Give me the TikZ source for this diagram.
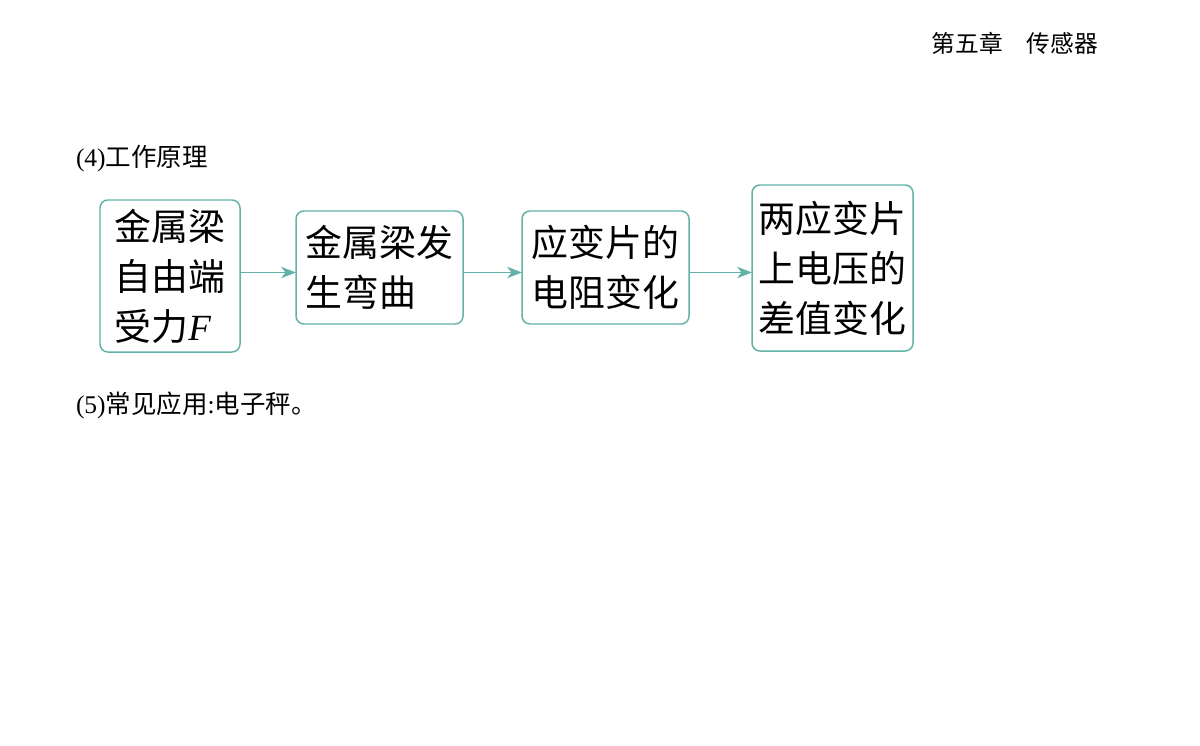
\documentclass[tikz,border=0pt]{standalone}
\usepackage{fontspec}
\setmainfont{Liberation Serif}
\newfontfamily\cjk{Noto Sans CJK SC}
\usetikzlibrary{%
    positioning,
    arrows.meta
}
\definecolor{boxteal}{RGB}{98,178,168}
\tikzset{
    every node/.style = {
        inner sep=0pt, outer sep=0pt,
    },
    stagebox/.style = {
        rectangle, rounded corners=4.5pt,
        draw=boxteal, line width=0.85pt,
        fill=white, align=left,
        font=\fontsize{21}{28.5}\selectfont\cjk,
    },
    flow/.style = {
        draw=boxteal, line width=0.8pt,
        -{Stealth[length=8.5pt, width=6.5pt, inset=2.5pt]},
    },
    heading/.style = {
        font=\fontsize{14.5}{17}\selectfont,
        anchor=west,
    }
}

\begin{document}
\begin{tikzpicture}
    \useasboundingbox (0, 0) rectangle (24, -14.9);
    \node[
        anchor=east,
        font=\fontsize{13.5}{16}\selectfont\cjk
    ] (chapter) at (21.96, -0.86) {第五章\quad 传感器};
    \node[heading] (principle) at (1.52, -3.17) {(4)\cjk 工作原理};
    \node[
        stagebox,
        minimum width = 2.8cm,
        minimum height = 3.04cm
    ] (force) at (3.4, -5.52) {金属梁\\自由端\\受力{\rmfamily\itshape F}};
    \node[
        stagebox,
        minimum width = 3.34cm,
        minimum height = 2.26cm
    ] (bending) at (7.59, -5.35) {金属梁发\\生弯曲};
    \node[
        stagebox,
        minimum width = 3.34cm,
        minimum height = 2.26cm
    ] (resistance) at (12.11, -5.35) {应变片的\\电阻变化};
    \node[
        stagebox,
        minimum width = 3.22cm,
        minimum height = 3.32cm
    ] (voltage) at (16.65, -5.36) {两应变片\\上电压的\\差值变化};
    \coordinate (axis) at (0, -5.45);
    \draw[flow] (force.east |- axis) -- (bending.west |- axis);
    \draw[flow] (bending.east |- axis) -- (resistance.west |- axis);
    \draw[flow] (resistance.east |- axis) -- (voltage.west |- axis);
    \node[heading] (application) at (1.52, -8.1) {(5)\cjk 常见应用{\rmfamily :}电子秤。};
\end{tikzpicture}
\end{document}
